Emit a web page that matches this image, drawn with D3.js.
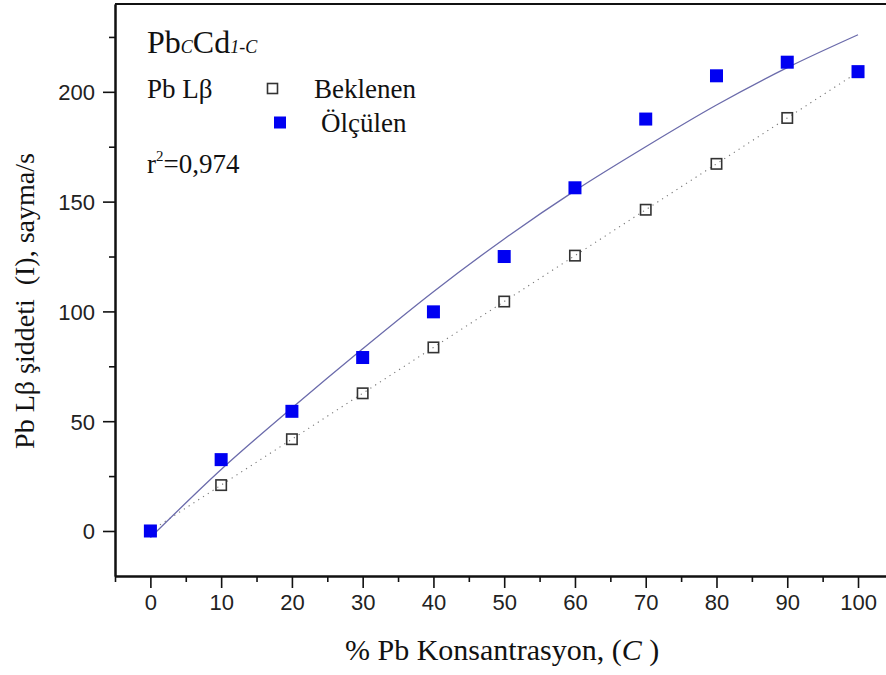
<!DOCTYPE html>
<html>
<head>
<meta charset="utf-8">
<script src="https://cdn.jsdelivr.net/npm/d3@7"></script>
<style>
  body { margin: 0; background: #fff; }
  svg { display: block; }
</style>
</head>
<body>
<div id="chartContainer"></div>
<script>
// concentration (% Pb) and measured / expected intensities
const conc = [0, 10, 20, 30, 40, 50, 60, 70, 80, 90, 100];
const beklenen = [0, 20.9, 41.8, 62.7, 83.6, 104.5, 125.4, 146.3, 167.2, 188.1, 209];
const olculen = [0, 32.5, 54.5, 79, 99.8, 125, 156.3, 187.6, 207.3, 213.5, 209.2];
// fit curve
const fitX = [0, 10, 20, 30, 40, 50, 60, 70, 80, 90, 100];
const fitY = [-3, 28, 56, 83, 109, 133, 155, 175, 194, 211, 226];

const xTicks = [0, 10, 20, 30, 40, 50, 60, 70, 80, 90, 100];
const yTicks = [0, 50, 100, 150, 200];

const W = 886, H = 675;
const serif = "'Liberation Serif', 'Times New Roman', serif";
const sans = "'Liberation Sans', Arial, sans-serif";

const svg = d3.select("#chartContainer")
  .append("svg")
  .attr("width", W)
  .attr("height", H);

const x = d3.scaleLinear().domain([-5, 105]).range([115, 893.4]);
const y = d3.scaleLinear().domain([-20.5, 240]).range([576, 4]);

// frame (top border, right is off canvas)
svg.append("line")
  .attr("x1", x(-5)).attr("x2", x(105))
  .attr("y1", y(240)).attr("y2", y(240))
  .attr("stroke", "#111").attr("stroke-width", 2);
svg.append("line")
  .attr("x1", x(105)).attr("x2", x(105))
  .attr("y1", y(240)).attr("y2", y(-20.5))
  .attr("stroke", "#111").attr("stroke-width", 2);

// x axis
const xAxis = svg.append("g")
  .attr("transform", `translate(0, ${y(-20.5)})`)
  .call(d3.axisBottom(x).tickValues(xTicks).tickSize(12).tickSizeOuter(0).tickPadding(6));
const xMinor = svg.append("g")
  .attr("transform", `translate(0, ${y(-20.5)})`)
  .call(d3.axisBottom(x).tickValues(d3.range(-5, 106, 10)).tickSize(6).tickFormat("").tickSizeOuter(0));

// y axis
const yAxis = svg.append("g")
  .attr("transform", `translate(${x(-5)}, 0)`)
  .call(d3.axisLeft(y).tickValues(yTicks).tickSize(12).tickSizeOuter(0).tickPadding(8));
const yMinor = svg.append("g")
  .attr("transform", `translate(${x(-5)}, 0)`)
  .call(d3.axisLeft(y).tickValues([25, 75, 125, 175, 225]).tickSize(6).tickFormat("").tickSizeOuter(0));

[xAxis, xMinor, yAxis, yMinor].forEach(g => {
  g.select(".domain").attr("stroke", "#111").attr("stroke-width", 2);
  g.selectAll(".tick line").attr("stroke", "#111").attr("stroke-width", 1.6);
  g.selectAll(".tick text")
    .attr("font-family", sans)
    .attr("font-size", "22px")
    .attr("fill", "#222");
});
yAxis.selectAll(".tick text").attr("dy", "0.36em");

// expected: dotted line
const pts = conc.map((c, i) => ({ c: c, b: beklenen[i], o: olculen[i] }));
svg.append("path")
  .datum(pts)
  .attr("fill", "none")
  .attr("stroke", "#777")
  .attr("stroke-width", 1.1)
  .attr("stroke-dasharray", "1.2,4.5")
  .attr("d", d3.line().x(d => x(d.c)).y(d => y(d.b)));

// fit curve
const fit = fitX.map((c, i) => ({ c: c, v: fitY[i] }));
svg.append("path")
  .datum(fit)
  .attr("fill", "none")
  .attr("stroke", "#6b6bab")
  .attr("stroke-width", 1.3)
  .attr("d", d3.line().curve(d3.curveMonotoneX).x(d => x(d.c)).y(d => y(d.v)));

const s = 12;
svg.selectAll(".beklenen")
  .data(pts)
  .enter()
  .append("rect")
  .attr("class", "beklenen")
  .attr("x", d => x(d.c) - s / 2 + 0.8)
  .attr("y", d => y(d.b) - s / 2 + 0.8)
  .attr("width", s - 1.6)
  .attr("height", s - 1.6)
  .attr("fill", "none")
  .attr("stroke", "#333")
  .attr("stroke-width", 1.6);

svg.selectAll(".olculen")
  .data(pts)
  .enter()
  .append("rect")
  .attr("class", "olculen")
  .attr("x", d => x(d.c) - s / 2 - 0.5)
  .attr("y", d => y(d.o) - s / 2 - 0.5)
  .attr("width", s + 1)
  .attr("height", s + 1)
  .attr("fill", "#0000f2");

// title block
const t = svg.append("text")
  .attr("x", 147)
  .attr("y", 53)
  .attr("font-family", serif)
  .attr("fill", "#111");
t.append("tspan").attr("font-size", "32px").text("Pb");
t.append("tspan").attr("font-size", "18px").attr("font-style", "italic").text("C");
t.append("tspan").attr("font-size", "32px").text("Cd");
t.append("tspan").attr("font-size", "18px").attr("font-style", "italic").text("1-C");

svg.append("text")
  .attr("x", 147).attr("y", 98)
  .attr("font-family", serif).attr("font-size", "27px").attr("fill", "#111")
  .text("Pb Lβ");

// legend
svg.append("rect")
  .attr("x", 267.5).attr("y", 83.5).attr("width", 10).attr("height", 10)
  .attr("fill", "none").attr("stroke", "#333").attr("stroke-width", 1.6);
svg.append("text")
  .attr("x", 314).attr("y", 98)
  .attr("font-family", serif).attr("font-size", "27px").attr("fill", "#111")
  .text("Beklenen");
svg.append("rect")
  .attr("x", 274).attr("y", 116.5).attr("width", 12).attr("height", 12)
  .attr("fill", "#0000f2");
svg.append("text")
  .attr("x", 321).attr("y", 132)
  .attr("font-family", serif).attr("font-size", "27px").attr("fill", "#111")
  .text("Ölçülen");

const r = svg.append("text")
  .attr("x", 147).attr("y", 173)
  .attr("font-family", serif).attr("font-size", "27px").attr("fill", "#111");
r.append("tspan").text("r");
r.append("tspan").attr("font-size", "15px").attr("dy", "-12").text("2");
r.append("tspan").attr("dy", "12").text("=0,974");

// axis titles
const xl = svg.append("text")
  .attr("x", 345).attr("y", 660)
  .attr("font-family", serif).attr("font-size", "30px").attr("fill", "#111");
xl.append("tspan").text("% Pb Konsantrasyon, (");
xl.append("tspan").attr("font-style", "italic").text("C");
xl.append("tspan").text(" )");

svg.append("text")
  .attr("transform", "translate(34, 301) rotate(-90)")
  .attr("text-anchor", "middle")
  .attr("font-family", serif).attr("font-size", "28px").attr("fill", "#111")
  .text("Pb Lβ şiddeti\u00a0\u00a0(I), sayma/s");
</script>
</body>
</html>
